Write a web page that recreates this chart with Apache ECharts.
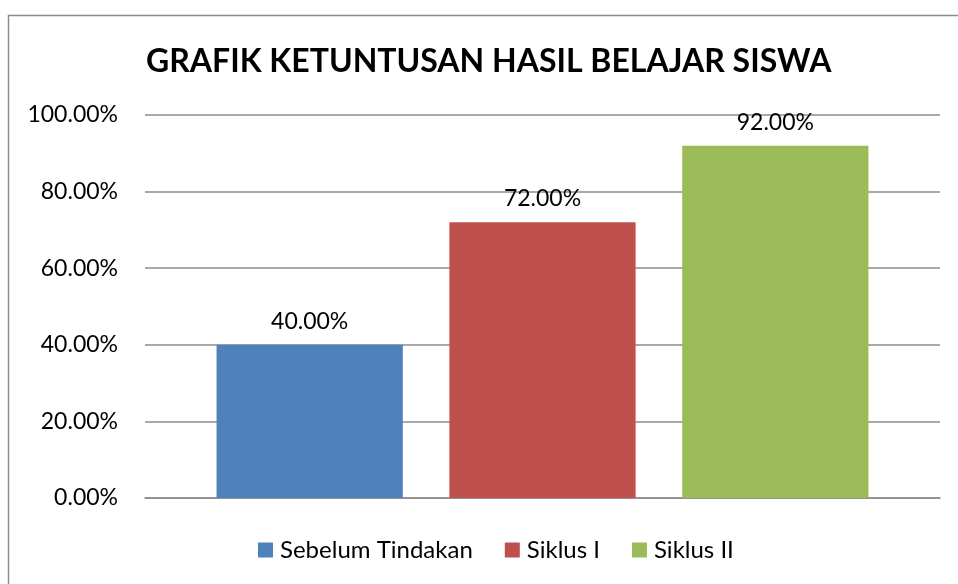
<!DOCTYPE html>
<html>
<head>
<meta charset="utf-8">
<script src="https://cdn.jsdelivr.net/npm/echarts@6/dist/echarts.min.js"></script>
<style>
  html, body { margin: 0; padding: 0; background: #fff; }
  #chart { width: 958px; height: 584px; }
</style>
</head>
<body>
<div id="chart"></div>
<script>
// data
const categories = [''];
const seriesNames = ['Sebelum Tindakan', 'Siklus I', 'Siklus II'];
const seriesValues = [0.40, 0.72, 0.92];
const seriesColors = ['#4F81BD', '#C0504D', '#9BBB59'];
const yTicks = { min: 0, max: 1, interval: 0.2 };

const FONT = 'Lato';
const pct = v => (v * 100).toFixed(2) + '%';

const chart = echarts.init(document.getElementById('chart'));

chart.setOption({
  animation: false,
  title: {
    text: 'GRAFIK KETUNTUSAN HASIL BELAJAR SISWA',
    left: 141,
    top: 41,
    textStyle: { fontFamily: FONT, fontSize: 32, fontWeight: 'bold', color: '#000' }
  },
  legend: {
    data: seriesNames,
    bottom: 17,
    left: 253,
    itemWidth: 15,
    itemHeight: 15,
    itemGap: 32,
    icon: 'rect',
    textStyle: { fontFamily: FONT, fontSize: 24, color: '#000', padding: [0, 0, 0, 2] }
  },
  grid: { left: 145, right: 18, top: 115, bottom: 86 },
  xAxis: {
    type: 'category',
    data: categories,
    axisLine: { lineStyle: { color: '#8c8c8c', width: 1.5 } },
    axisTick: { show: false },
    axisLabel: { show: false }
  },
  yAxis: {
    type: 'value',
    min: yTicks.min,
    max: yTicks.max,
    interval: yTicks.interval,
    axisLine: { show: false },
    axisTick: { show: false },
    axisLabel: {
      formatter: pct,
      margin: 27,
      fontFamily: FONT, fontSize: 23, color: '#000'
    },
    splitLine: { lineStyle: { color: '#8c8c8c', width: 1.5 } }
  },
  graphic: [{
    type: 'rect',
    shape: { x: 8.5, y: 15.5, width: 1000, height: 1000 },
    style: { fill: 'none', stroke: '#8c8c8c', lineWidth: 1.5 },
    silent: true
  }],
  series: seriesNames.map((name, i) => ({
    name: name,
    type: 'bar',
    data: [seriesValues[i]],
    barCategoryGap: '18%',
    barGap: '25%',
    itemStyle: { color: seriesColors[i] },
    label: {
      show: true,
      position: 'top',
      distance: 12,
      formatter: p => pct(p.value),
      fontFamily: FONT, fontSize: 23, color: '#000'
    }
  }))
});
</script>
</body>
</html>
